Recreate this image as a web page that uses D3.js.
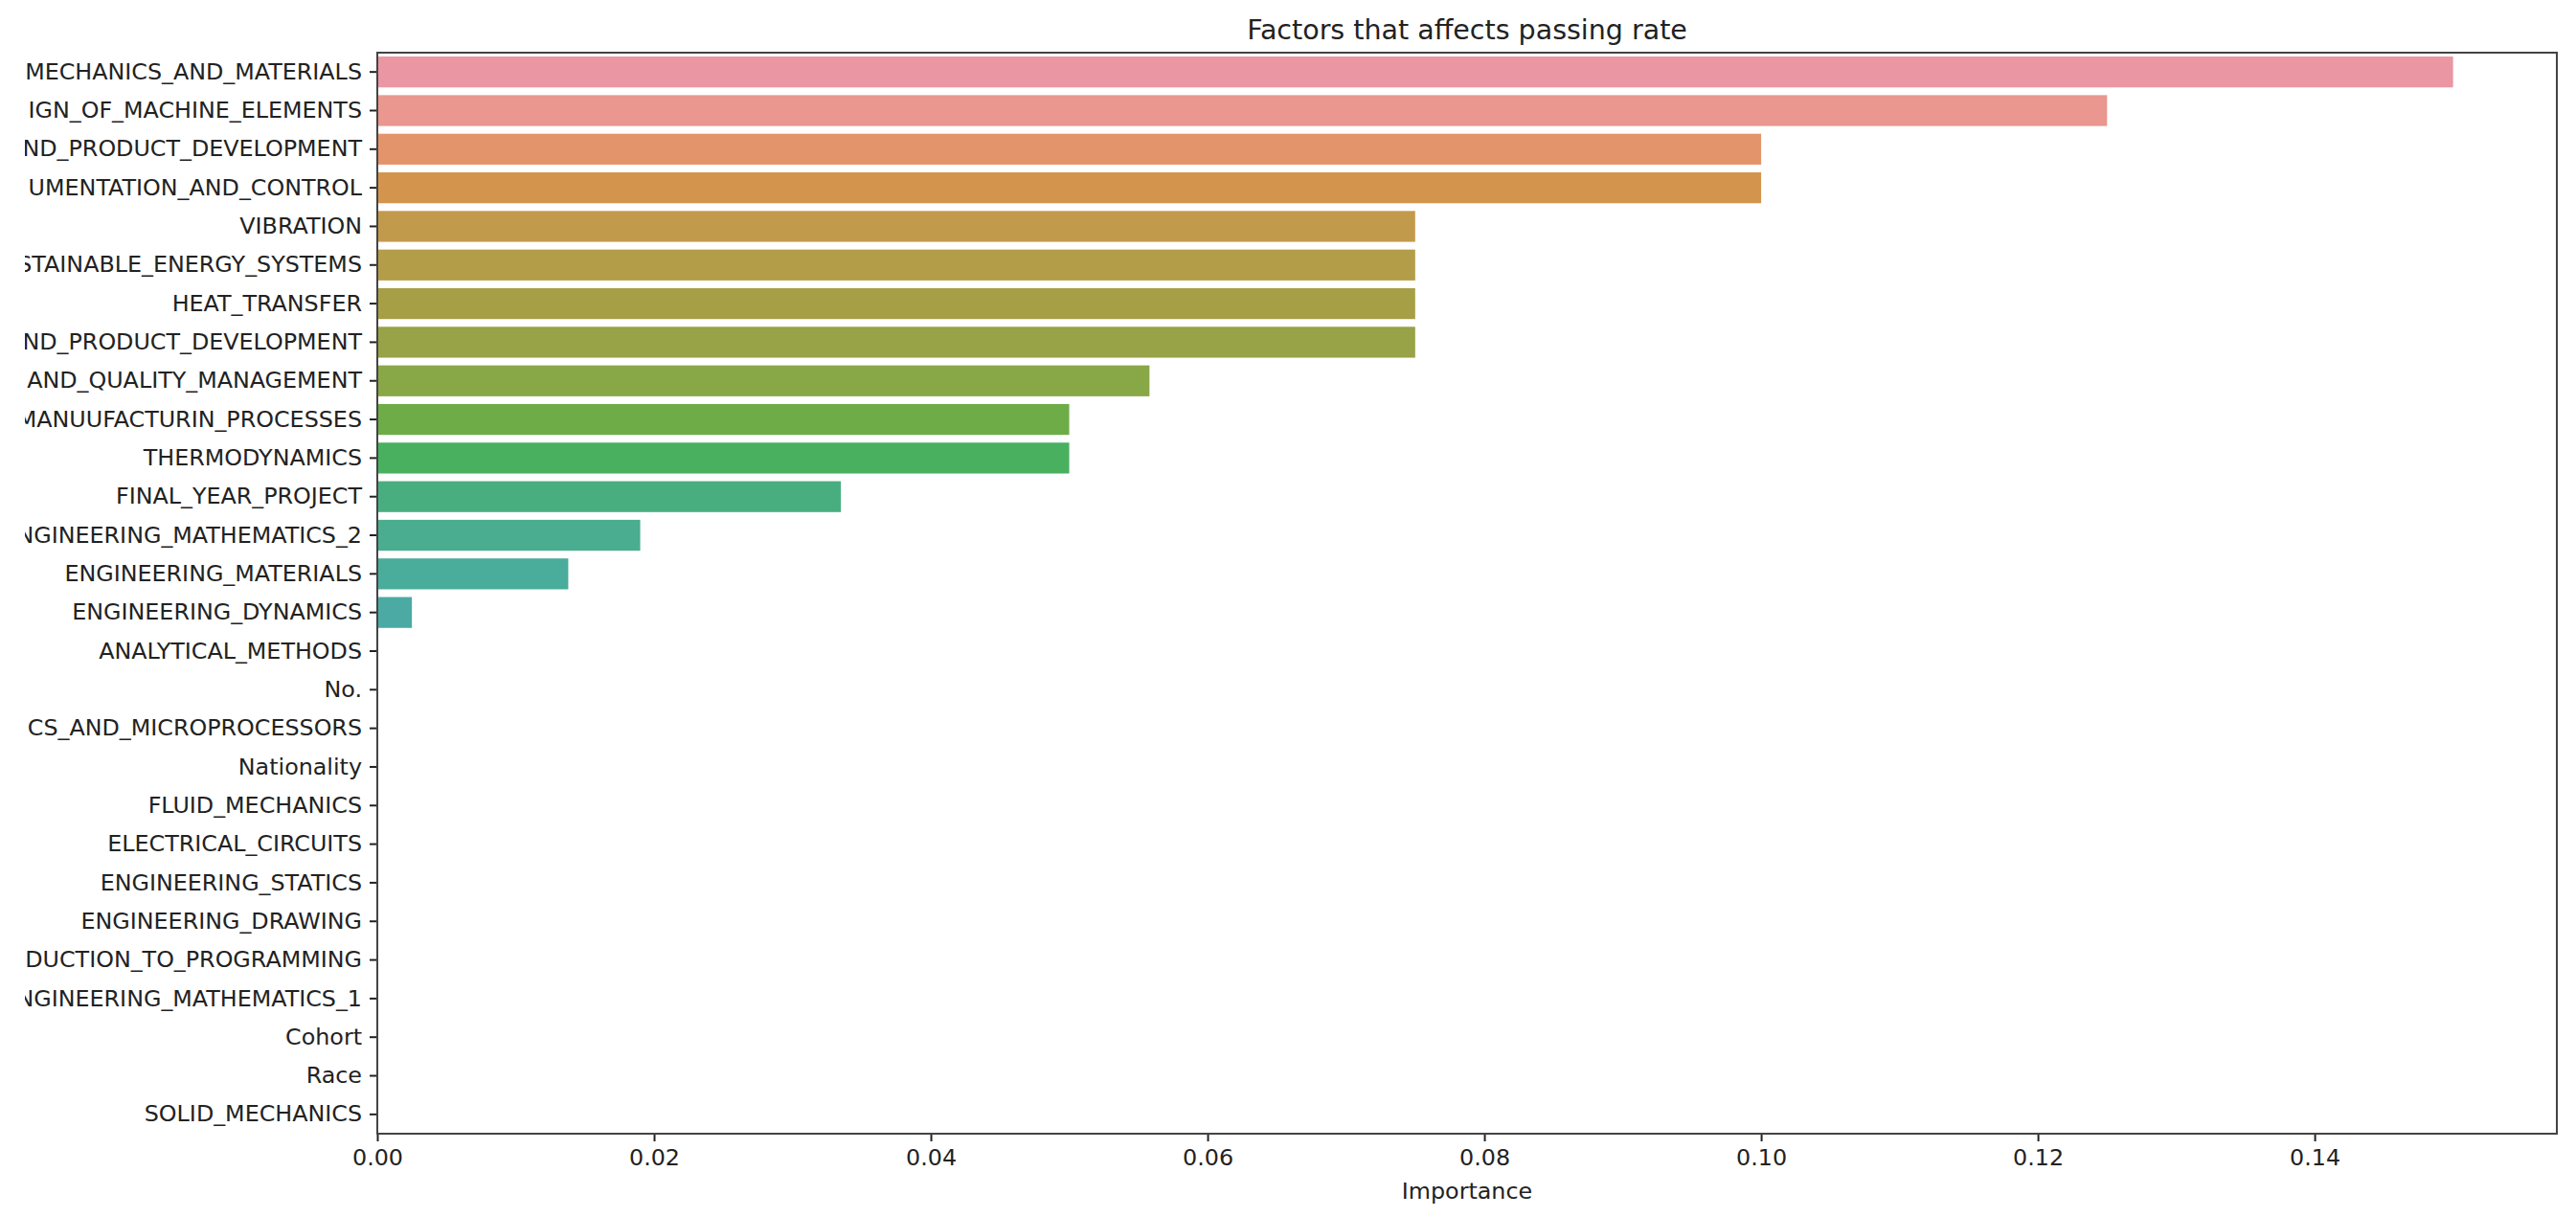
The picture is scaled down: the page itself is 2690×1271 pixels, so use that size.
<!DOCTYPE html>
<html>
<head>
<meta charset="utf-8">
<script src="https://cdn.jsdelivr.net/npm/d3@7"></script>
<style>
  body { margin: 0; background: #fff; }
  text { font-family: "DejaVu Sans", sans-serif; }
</style>
</head>
<body>
<script>
// Data (labels as far as the screenshot shows them)
const features = [
  "MECHANICS_AND_MATERIALS",
  "IGN_OF_MACHINE_ELEMENTS",
  "ND_PRODUCT_DEVELOPMENT",
  "UMENTATION_AND_CONTROL",
  "VIBRATION",
  "STAINABLE_ENERGY_SYSTEMS",
  "HEAT_TRANSFER",
  "ND_PRODUCT_DEVELOPMENT",
  "AND_QUALITY_MANAGEMENT",
  "MANUUFACTURIN_PROCESSES",
  "THERMODYNAMICS",
  "FINAL_YEAR_PROJECT",
  "NGINEERING_MATHEMATICS_2",
  "ENGINEERING_MATERIALS",
  "ENGINEERING_DYNAMICS",
  "ANALYTICAL_METHODS",
  "No.",
  "CS_AND_MICROPROCESSORS",
  "Nationality",
  "FLUID_MECHANICS",
  "ELECTRICAL_CIRCUITS",
  "ENGINEERING_STATICS",
  "ENGINEERING_DRAWING",
  "DUCTION_TO_PROGRAMMING",
  "NGINEERING_MATHEMATICS_1",
  "Cohort",
  "Race",
  "SOLID_MECHANICS"
];

const importance = [
  0.150, 0.125, 0.100, 0.100, 0.075, 0.075, 0.075, 0.075, 0.0558,
  0.050, 0.050, 0.0335, 0.0190, 0.0138, 0.0025,
  0, 0, 0, 0, 0, 0, 0, 0, 0, 0, 0, 0, 0
];

const xTicks = [0, 0.02, 0.04, 0.06, 0.08, 0.10, 0.12, 0.14];

const data = features.map((f, i) => ({ idx: i, feature: f, value: importance[i] }));

// husl palette (seaborn default for many categories), then desaturated
const M = [
  [3.240969941904521, -1.537383177570093, -0.498610760293],
  [-0.96924363628087, 1.87596750150772, 0.041555057407175],
  [0.055630079696993, -0.20397695888897, 1.056971514242878]
];
const refU = 0.19783000664283, refV = 0.46831999493879;
const kappa = 903.2962962, epsilon = 0.0088564516;

function maxChroma(L, H) {
  let hrad = H * Math.PI / 180, sinH = Math.sin(hrad), cosH = Math.cos(hrad);
  let sub1 = Math.pow(L + 16, 3) / 1560896;
  let sub2 = sub1 > epsilon ? sub1 : L / kappa;
  let result = Infinity;
  M.forEach(([m1, m2, m3]) => {
    let top = (0.99915 * m1 + 1.05122 * m2 + 1.14460 * m3) * sub2;
    let rbottom = 0.86330 * m3 - 0.17266 * m2;
    let lbottom = 0.12949 * m3 - 0.38848 * m1;
    let bottom = (rbottom * sinH + lbottom * cosH) * sub2;
    [0, 1].forEach(t => {
      let C = L * (top - 1.05122 * t) / (bottom + 0.17266 * sinH * t);
      if (C > 0 && C < result) result = C;
    });
  });
  return result;
}

function huslToRgb(H, S, L) {
  let C = maxChroma(L, H) / 100 * S;
  let hrad = H * Math.PI / 180;
  let U = Math.cos(hrad) * C, V = Math.sin(hrad) * C;
  let t = (L + 16) / 116;
  let Y = Math.pow(t, 3) > epsilon ? Math.pow(t, 3) : (116 * t - 16) / kappa;
  let varU = U / (13 * L) + refU, varV = V / (13 * L) + refV;
  let X = 0 - (9 * Y * varU) / ((varU - 4) * varV - varU * varV);
  let Z = (9 * Y - 15 * varV * Y - varV * X) / (3 * varV);
  return M.map(row => {
    let c = row[0] * X + row[1] * Y + row[2] * Z;
    c = c <= 0.0031308 ? 12.92 * c : 1.055 * Math.pow(c, 1 / 2.4) - 0.055;
    return Math.max(0, Math.min(1, c));
  });
}

const n = features.length;
const colors = features.map((f, i) => {
  let h = ((i / n + 0.01) % 1) * 359;
  let [r, g, b] = huslToRgb(h, 0.9 * 99, 0.7 * 99);
  let c = d3.hsl(d3.rgb(r * 255, g * 255, b * 255));
  c.s *= 0.75;
  return c.formatHex();
});

// SVG
let width = 2690, height = 1271;
let margin = { top: 55, bottom: 87, left: 394, right: 20 };

let svg = d3.select('body')
  .append('svg')
    .attr('width', width)
    .attr('height', height);

// the screenshot is cropped a little left of the tick labels
svg.append('clipPath')
    .attr('id', 'crop')
  .append('rect')
    .attr('x', 26).attr('y', 0)
    .attr('width', width).attr('height', height);

let xScale = d3.scaleLinear()
  .domain([0, 0.1575])
  .range([margin.left, width - margin.right]);

let yScale = d3.scaleBand()
  .domain(d3.range(n))
  .range([margin.top, height - margin.bottom])
  .paddingInner(0.2)
  .paddingOuter(0.1);

// Bars
svg.append('g')
  .selectAll('rect')
  .data(data)
  .enter()
  .append('rect')
    .attr('x', xScale(0))
    .attr('y', d => yScale(d.idx))
    .attr('width', d => xScale(d.value) - xScale(0))
    .attr('height', yScale.bandwidth())
    .attr('fill', (d, i) => colors[i]);

// Axes
let yAxis = svg.append('g')
    .attr('clip-path', 'url(#crop)')
  .append('g')
    .attr('transform', `translate(${margin.left},0)`)
    .call(d3.axisLeft(yScale).tickFormat(i => features[i]).tickSize(8).tickPadding(8));

let xAxis = svg.append('g')
    .attr('transform', `translate(0,${height - margin.bottom})`)
    .call(d3.axisBottom(xScale).tickValues(xTicks).tickFormat(d3.format('.2f')).tickSize(8).tickPadding(8));

[xAxis, yAxis].forEach(ax => {
  ax.select('.domain').remove();
  ax.selectAll('line').attr('stroke', '#222').attr('stroke-width', 2);
  ax.selectAll('text')
    .style('font-size', '23.8px')
    .attr('fill', '#222');
});

// Frame
svg.append('rect')
    .attr('x', margin.left)
    .attr('y', margin.top)
    .attr('width', width - margin.right - margin.left)
    .attr('height', height - margin.bottom - margin.top)
    .attr('fill', 'none')
    .attr('stroke', '#444')
    .attr('stroke-width', 2);

// Labels
svg.append('text')
    .attr('x', (margin.left + width - margin.right) / 2)
    .attr('y', 1252)
    .attr('text-anchor', 'middle')
    .style('font-size', '23.8px')
    .attr('fill', '#222')
    .text('Importance');

svg.append('text')
    .attr('x', (margin.left + width - margin.right) / 2)
    .attr('y', 41)
    .attr('text-anchor', 'middle')
    .style('font-size', '28.5px')
    .attr('fill', '#222')
    .text('Factors that affects passing rate');
</script>
</body>
</html>
